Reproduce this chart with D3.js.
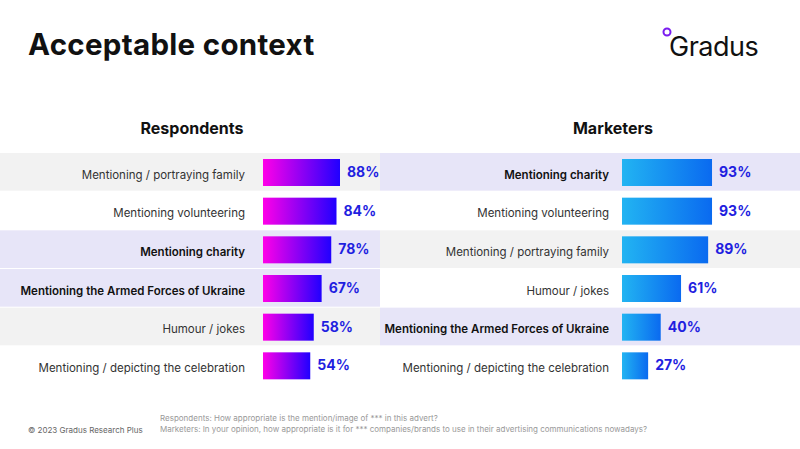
<!DOCTYPE html>
<html><head><meta charset="utf-8">
<script src="https://cdn.jsdelivr.net/npm/d3@7"></script>
<style>body{margin:0;background:#fff;font-family:Inter,"Noto Sans",sans-serif}</style>
</head><body><svg id="c" width="800" height="449"></svg>
<script>
const respLabels = ["Mentioning / portraying family", "Mentioning volunteering", "Mentioning charity",
  "Mentioning the Armed Forces of Ukraine", "Humour / jokes", "Mentioning / depicting the celebration"];
const respValues = [88, 84, 78, 67, 58, 54];
const respBold = [false, false, true, true, false, false];
const respBands = ["#f2f2f2", "#fff", "#e7e5f8", "#e7e5f8", "#f2f2f2", "#fff"];

const mktLabels = ["Mentioning charity", "Mentioning volunteering", "Mentioning / portraying family",
  "Humour / jokes", "Mentioning the Armed Forces of Ukraine", "Mentioning / depicting the celebration"];
const mktValues = [93, 93, 89, 61, 40, 27];
const mktBold = [true, false, false, false, true, false];
const mktBands = ["#e7e5f8", "#fff", "#f2f2f2", "#fff", "#e7e5f8", "#fff"];

const svg = d3.select("#c");
const defs = svg.append("defs");
function grad(id, a, b) {
  const g = defs.append("linearGradient").attr("id", id);
  g.append("stop").attr("offset", "0%").attr("stop-color", a);
  g.append("stop").attr("offset", "100%").attr("stop-color", b);
}
grad("gL", "#ff00e8", "#2000ff");
grad("gR", "#22b4f2", "#0a6af0");

svg.append("text").attr("x", 28).attr("y", 55).attr("font-size", 29.5).attr("font-weight", 700)
  .attr("fill", "#111").attr("letter-spacing", 0.3).text("Acceptable context");

// logo
svg.append("circle").attr("cx", 667).attr("cy", 32).attr("r", 3.5).attr("fill", "none")
  .attr("stroke", "#7a1cf0").attr("stroke-width", 2);
svg.append("text").attr("x", 669).attr("y", 56).attr("font-size", 27).attr("fill", "#111")
  .attr("letter-spacing", -0.5).text("Gradus");

const y = d3.scaleBand().domain(d3.range(6)).range([153, 385]);

function panel(o) {
  const g = svg.append("g");
  g.append("text").attr("x", o.hx).attr("y", 134).attr("text-anchor", "middle")
    .attr("font-size", 16).attr("font-weight", 700).attr("fill", "#111").text(o.title);
  const x = d3.scaleLinear().domain([0, 100]).range([o.bx, o.bx + o.w100]);
  const rows = g.selectAll("g.r").data(o.values).join("g");
  rows.append("rect").attr("x", o.px0).attr("width", o.px1 - o.px0)
    .attr("y", (d, i) => y(i)).attr("height", y.bandwidth() - 1).attr("fill", (d, i) => o.bands[i]);
  rows.append("rect").attr("x", o.bx).attr("y", (d, i) => y(i) + 6).attr("height", 27)
    .attr("width", d => x(d) - o.bx).attr("fill", `url(#${o.grad})`);
  rows.append("text").attr("x", o.lx).attr("y", (d, i) => y(i) + 25.5).attr("text-anchor", "end")
    .attr("font-size", 11.5).attr("fill", (d, i) => o.bold[i] ? "#111" : "#333")
    .attr("font-weight", (d, i) => o.bold[i] ? 600 : 400).text((d, i) => o.labels[i]);
  rows.append("text").attr("x", d => x(d) + 7).attr("y", (d, i) => y(i) + 24)
    .attr("font-size", 14).attr("font-weight", 700).attr("fill", "#1f1fe0").text(d => d + "%");
}
panel({title: "Respondents", hx: 192, values: respValues, labels: respLabels, bold: respBold,
  bands: respBands, px0: 0, px1: 380, bx: 263, w100: 87.5, lx: 245, grad: "gL"});
panel({title: "Marketers", hx: 613, values: mktValues, labels: mktLabels, bold: mktBold,
  bands: mktBands, px0: 380, px1: 800, bx: 622, w100: 96.8, lx: 609, grad: "gR"});

svg.append("text").attr("x", 28).attr("y", 433).attr("font-size", 8).attr("fill", "#666")
  .text("© 2023 Gradus Research Plus");
svg.append("text").attr("x", 160).attr("y", 421).attr("font-size", 8).attr("fill", "#999")
  .text("Respondents: How appropriate is the mention/image of *** in this advert?");
svg.append("text").attr("x", 160).attr("y", 432).attr("font-size", 8).attr("fill", "#999")
  .text("Marketers: In your opinion, how appropriate is it for *** companies/brands to use in their advertising communications nowadays?");
</script></body></html>
